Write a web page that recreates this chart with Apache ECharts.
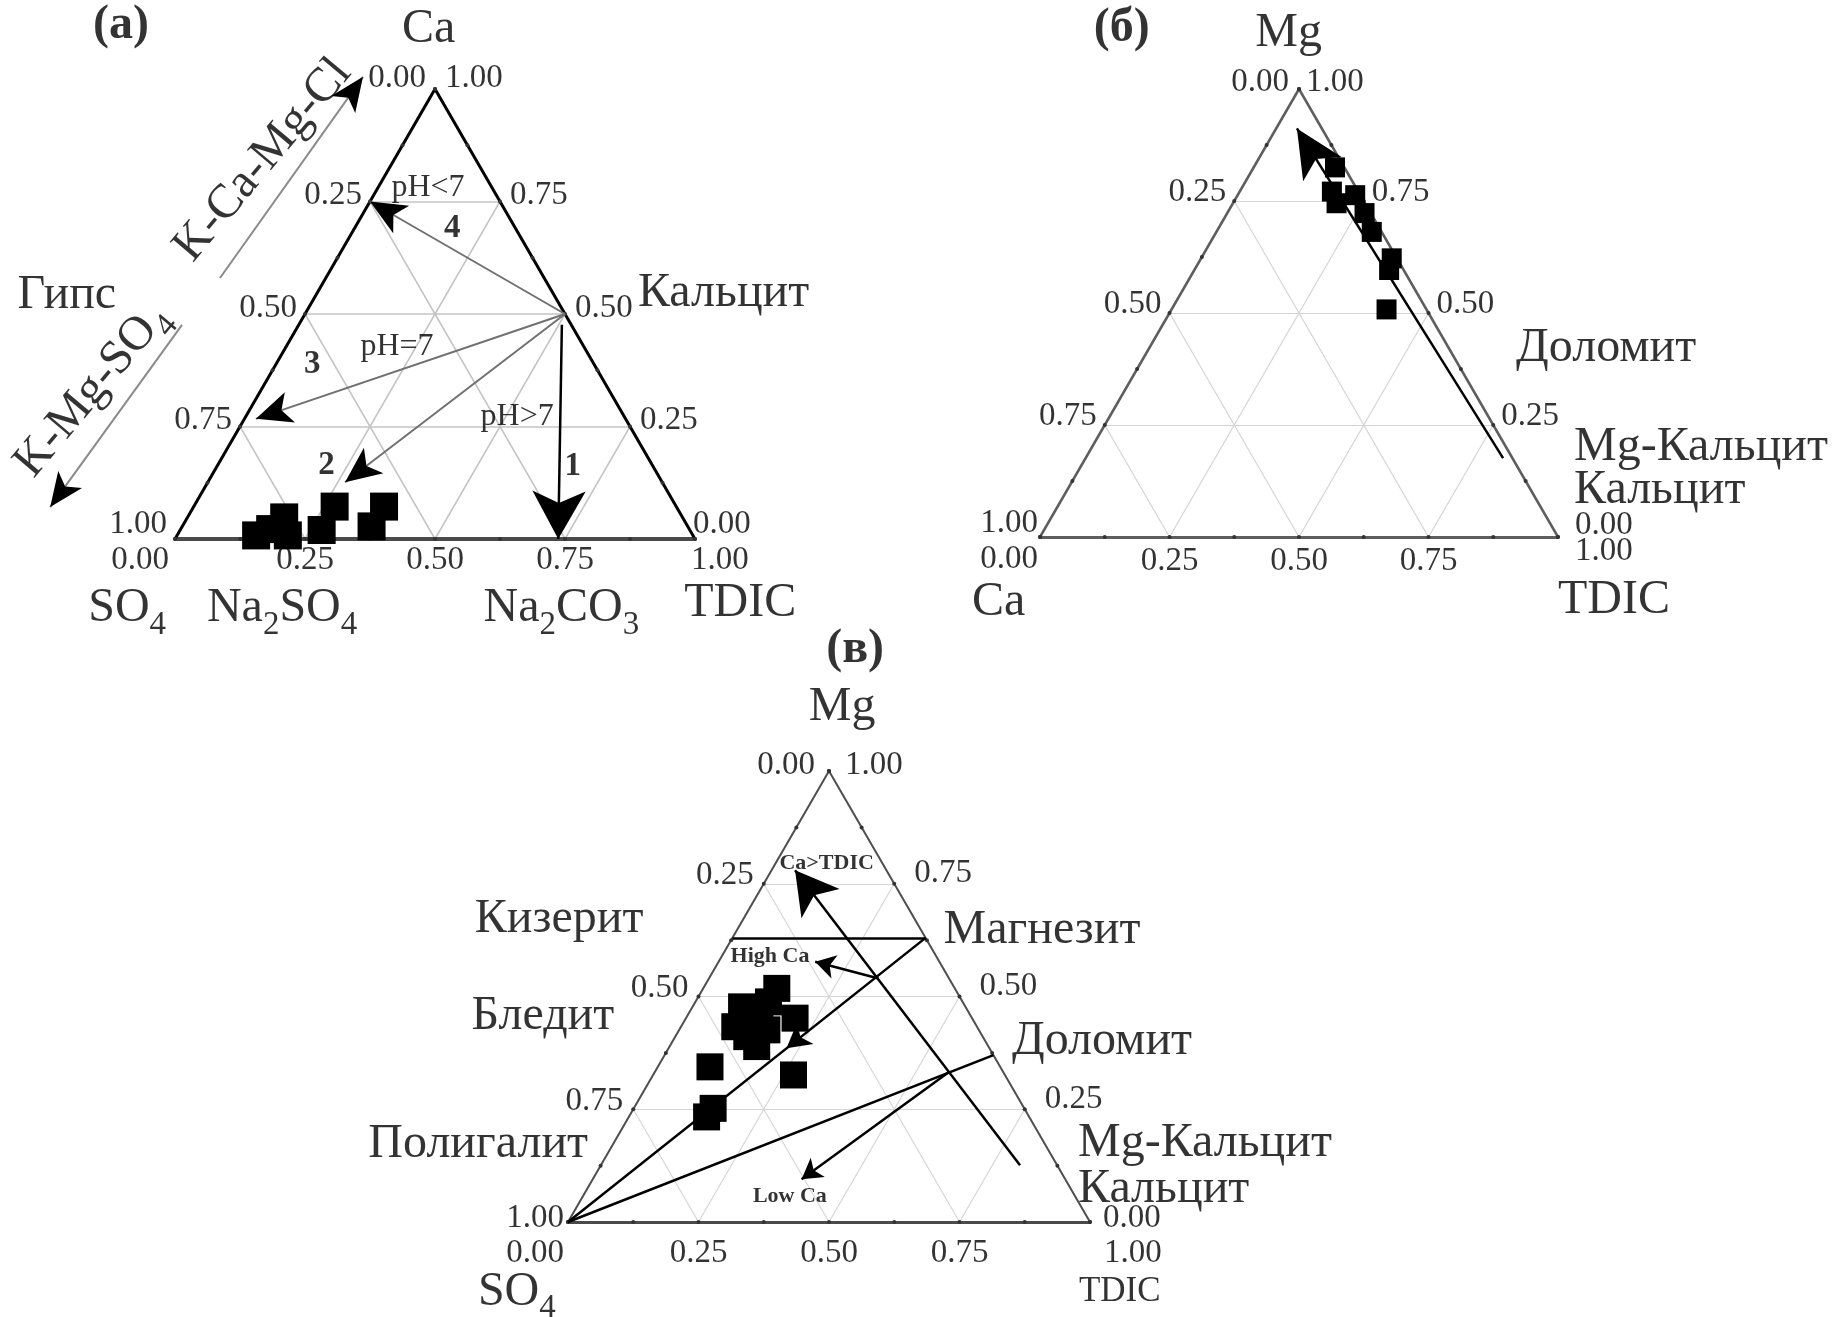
<!DOCTYPE html>
<html>
<head>
<meta charset="utf-8">
<script src="https://cdn.jsdelivr.net/npm/echarts@6/dist/echarts.min.js"></script>
<style>
  html, body { margin: 0; background: #fff; }
  #main { width: 1842px; height: 1317px; }
</style>
</head>
<body>
<div id="main"></div>
<script>
const FONT = "'Liberation Serif', 'Times New Roman', serif";
// ternary point [t, m]: t = share of bottom-right corner, m = share of apex
const tern = p => [p[0] + p[1] / 2, p[1]];

// ---------- axes ----------
const tickValues = [0, 0.25, 0.5, 0.75, 1];
const minorValues = [0.125, 0.375, 0.625, 0.875];
const gridValues = [0.25, 0.5, 0.75];

// ---------- (a) SO4 - TDIC - Ca ----------
const samplesA = [[0.152, 0.008], [0.172, 0.022], [0.186, 0.048], [0.213, 0.008],
                  [0.272, 0.02], [0.271, 0.072], [0.364, 0.028], [0.366, 0.072]];
const calciteA = [0.5, 0.5];
const pathTipsA = [[0, 0.75], [0.022, 0.267], [0.264, 0.126]];   // paths 4, 3, 2
const path1A = [[0.506, 0.476], [0.737, 0]];

// ---------- (б) Ca - TDIC - Mg ----------
const samplesB = [[0.157, 0.825], [0.178, 0.771], [0.2, 0.745], [0.227, 0.763], [0.265, 0.723],
                  [0.3, 0.681], [0.368, 0.622], [0.376, 0.596], [0.415, 0.508]];
const trendB = [[0.806, 0.176], [0.04, 0.912]];

// ---------- (в) SO4 - TDIC - Mg ----------
const samplesC = [[0.141, 0.518], [0.14, 0.488], [0.094, 0.477], [0.103, 0.433], [0.14, 0.455],
                  [0.209, 0.452], [0.167, 0.389], [0.1, 0.344], [0.269, 0.326], [0.152, 0.252],
                  [0.149, 0.233], [0.168, 0.426], [0.137, 0.411]];
const so4C = [0, 0];
const magnesiteC = [0.37, 0.63];
const dolomiteC = [0.63, 0.37];
const magLevelC = [[0, 0.63], [0.37, 0.63]];
const caLineC = [[0.803, 0.126], [0.045, 0.78]];
const highCaC = [[0.325, 0.54], [0.185, 0.577]];
const lowCaC = [[0.564, 0.333], [0.40, 0.095]];
const magArrowTipC = [0.226, 0.385];

// ---------- text notes (plot coords: x along base, y = apex share) ----------
const notesA = [
  [-0.104, 1.14, '(a)', 'panel'], [0.488, 1.133, 'Ca', 'big'],
  [1.055, 0.545, 'Кальцит', 'big'], [-0.208, 0.542, 'Гипс', 'big'],
  [0.169, 0.842, 'K-Ca-Mg-Cl', 'big', 50], [-0.16, 0.331, '{m|K-Mg-SO}{s|4}', 'big', 50],
  [0.4865, 0.782, 'pH<7', 'pH'], [0.533, 0.691, '4', 'num'],
  [0.427, 0.427, 'pH=7', 'pH'], [0.264, 0.387, '3', 'num'],
  [0.2915, 0.164, '2', 'num'], [0.658, 0.271, 'pH>7', 'pH'], [0.765, 0.162, '1', 'num'],
  [-0.092, -0.155, '{m|SO}{s|4}', 'big'], [0.206, -0.155, '{m|Na}{s|2}{m|SO}{s|4}', 'big'],
  [0.743, -0.155, '{m|Na}{s|2}{m|CO}{s|3}', 'big'], [1.087, -0.142, 'TDIC', 'big']
];
const notesB = [
  [0.158, 1.134, '(б)', 'panel'], [0.48, 1.125, 'Mg', 'big'],
  [1.093, 0.42, 'Доломит', 'big'],
  [1.031, 0.2, 'Mg-Кальцит', 'big', 0, 'left'], [1.031, 0.105, 'Кальцит', 'big', 0, 'left'],
  [-0.08, -0.146, 'Ca', 'big'], [1.108, -0.141, 'TDIC', 'big']
];
const notesC = [
  [0.55, 1.269, '(в)', 'panel'], [0.525, 1.14, 'Mg', 'big'],
  [-0.017, 0.67, 'Кизерит', 'big'], [0.908, 0.647, 'Магнезит', 'big'],
  [-0.048, 0.457, 'Бледит', 'big'], [1.023, 0.401, 'Доломит', 'big'],
  [-0.172, 0.171, 'Полигалит', 'big'],
  [0.977, 0.175, 'Mg-Кальцит', 'big', 0, 'left'], [0.977, 0.073, 'Кальцит', 'big', 0, 'left'],
  [-0.098, -0.155, '{m|SO}{s|4}', 'big'], [1.057, -0.155, 'TDIC', 'mid'],
  [0.4955, 0.795, 'Ca>TDIC', 'tag'], [0.387, 0.588, 'High Ca', 'tag'], [0.425, 0.056, 'Low Ca', 'tag']
];
// outer arrows of panel (a), plot coords
const outerArrowsA = [[[0.0865, 0.58], [0.3615, 1.027]], [[0.0135, 0.476], [-0.24, 0.071]]];

// ---------- layout / styles ----------
const grids = [
  { left: 175, top: 89, width: 520, height: 450 },
  { left: 1040, top: 89, width: 518, height: 448 },
  { left: 568, top: 771, width: 522, height: 451 }
];
const frameStyle = [
  { side: { color: '#000', width: 3 }, base: { color: '#4a4a4a', width: 4 }, grid: { color: '#c4c4c4', width: 1.5 } },
  { side: { color: '#5e5e5e', width: 2.5 }, base: { color: '#5e5e5e', width: 3 }, grid: { color: '#d4d4d4', width: 1.2 } },
  { side: { color: '#4e4e4e', width: 2 }, base: { color: '#4a4a4a', width: 3 }, grid: { color: '#d6d6d6', width: 1.2 } }
];
const tickOff = [
  { apexL: [-9, -11], apexR: [10, -11], left: [-8, -6], leftCorner: [-8, -15], right: [10, -6],
    rightCorner: [-2, -15], bottom: [0, 21], bottomLeft: [-6, 21], bottomRight: [-4, 21] },
  { apexL: [-10, -7], apexR: [7, -7], left: [-8, -9], leftCorner: [-2, -14], right: [8, -9],
    rightCorner: [17, -12], bottom: [0, 24], bottomLeft: [-2, 22], bottomRight: [17, 14] },
  { apexL: [-14, -6], apexR: [16, -6], left: [-10, -8], leftCorner: [-4, -4], right: [20, -10],
    rightCorner: [13, -4], bottom: [0, 31], bottomLeft: [-4, 31], bottomRight: [14, 31] }
];
const textStyles = {
  panel: { fontSize: 48, fontWeight: 'bold' },
  big: { fontSize: 48 },
  mid: { fontSize: 35 },
  pH: { fontSize: 32 },
  num: { fontSize: 33, fontWeight: 'bold' },
  tag: { fontSize: 22, fontWeight: 'bold' }
};
// subscripts: main glyphs top-aligned, index pushed below the baseline by its top padding
const rich = {
  m: { fontFamily: FONT, fontSize: 48, lineHeight: 48, verticalAlign: 'top', color: '#000' },
  s: { fontFamily: FONT, fontSize: 33, lineHeight: 33, padding: [24, 0, 0, 0], verticalAlign: 'top', color: '#000' }
};

const on = i => ({ xAxisIndex: i, yAxisIndex: i, silent: true, animation: false });
const f2 = v => v.toFixed(2);
const solid = s => Object.assign({ opacity: 1 }, s);

function frameSeries(i) {
  const st = frameStyle[i], o = tickOff[i];
  const A = tern([0, 0]), B = tern([1, 0]), C = tern([0, 1]);
  const segs = [];
  gridValues.forEach(k => {
    segs.push([tern([0, k]), tern([1 - k, k])]);
    segs.push([tern([k, 0]), tern([k, 1 - k])]);
    segs.push([tern([1 - k, 0]), tern([0, 1 - k])]);
  });
  const ticks = [];
  tickValues.concat(minorValues).forEach(k => {
    ticks.push(tern([k, 0]), tern([0, k]), tern([1 - k, k]));
  });
  const labels = [];
  const lbl = (p, text, align, off) => ({ value: p, name: text, label: { align: align, offset: off } });
  tickValues.forEach(v => {
    labels.push(lbl(tern([0, v]), f2(1 - v), 'right', v === 0 ? o.leftCorner : v === 1 ? o.apexL : o.left));
    labels.push(lbl(tern([1 - v, v]), f2(v), 'left', v === 0 ? o.rightCorner : v === 1 ? o.apexR : o.right));
    labels.push(lbl(tern([v, 0]), f2(v), v === 0 ? 'right' : v === 1 ? 'left' : 'center',
      v === 0 ? o.bottomLeft : v === 1 ? o.bottomRight : o.bottom));
  });
  return [
    Object.assign({ type: 'lines', coordinateSystem: 'cartesian2d', clip: false, z: 1,
      lineStyle: solid(st.grid), data: segs.map(c => ({ coords: c })) }, on(i)),
    Object.assign({ type: 'lines', coordinateSystem: 'cartesian2d', clip: false, z: 2,
      data: [{ coords: [A, B], lineStyle: solid(st.base) }, { coords: [B, C], lineStyle: solid(st.side) },
             { coords: [C, A], lineStyle: solid(st.side) }] }, on(i)),
    Object.assign({ type: 'scatter', clip: false, z: 3, symbol: 'circle', symbolSize: 4,
      itemStyle: { color: '#333', opacity: 1 }, data: ticks }, on(i)),
    Object.assign({ type: 'scatter', clip: false, z: 4, symbolSize: 1,
      itemStyle: { color: 'rgba(0,0,0,0)' },
      label: { show: true, position: 'inside', formatter: p => p.name, fontFamily: FONT,
               fontSize: 33, color: '#000', verticalAlign: 'middle' },
      data: labels }, on(i))
  ];
}

function sampleSeries(i, pts, size) {
  return Object.assign({ type: 'scatter', clip: false, z: 6, symbol: 'rect', symbolSize: size,
    itemStyle: { color: '#000', opacity: 1 }, data: pts.map(tern) }, on(i));
}

// segs in plot coords; the head is a separate zero-width line so it can be black on a grey shaft
function arrowSeries(i, segs, lineStyle, head) {
  const out = [];
  if (lineStyle) {
    out.push(Object.assign({ type: 'lines', coordinateSystem: 'cartesian2d', clip: false, z: 5,
      lineStyle: solid(lineStyle), data: segs.map(s => ({ coords: s })) }, on(i)));
  }
  if (head) {
    out.push(Object.assign({ type: 'lines', coordinateSystem: 'cartesian2d', clip: false, z: 7,
      symbol: ['none', 'arrow'], symbolSize: [0, head.size],
      lineStyle: { color: head.color || '#000', width: 0, opacity: 1 },
      data: segs.map(s => ({ coords: s })) }, on(i)));
  }
  return out;
}

function noteSeries(i, notes) {
  return Object.assign({ type: 'scatter', clip: false, z: 8, symbolSize: 1,
    itemStyle: { color: 'rgba(0,0,0,0)' },
    label: { show: true, position: 'inside', formatter: p => p.name, fontFamily: FONT,
             color: '#000', verticalAlign: 'middle', rich: rich },
    data: notes.map(n => ({
      value: [n[0], n[1]], name: n[2],
      label: Object.assign({ rotate: n[4] || 0, align: n[5] || 'center' }, textStyles[n[3]])
    }))
  }, on(i));
}

const gray = { color: '#707070', width: 2 };
const black = { color: '#000', width: 2.5 };
const series = [].concat(
  // (a)
  frameSeries(0),
  arrowSeries(0, pathTipsA.map(t => [tern(calciteA), tern(t)]), gray, { size: [24, 36] }),
  arrowSeries(0, [path1A.map(tern)], black, { size: [40, 48] }),
  arrowSeries(0, outerArrowsA, { color: '#8a8a8a', width: 2 }, { size: [22, 34] }),
  sampleSeries(0, samplesA, 28),
  noteSeries(0, notesA),
  // (б)
  frameSeries(1),
  arrowSeries(1, [trendB.map(tern)], black, { size: [34, 48] }),
  sampleSeries(1, samplesB, 20),
  noteSeries(1, notesB),
  // (в)
  frameSeries(2),
  arrowSeries(2, [magLevelC.map(tern), [so4C, dolomiteC].map(tern), [so4C, magnesiteC].map(tern)], black, null),
  arrowSeries(2, [[tern(magnesiteC), tern(magArrowTipC)]], null, { size: [20, 24] }),
  arrowSeries(2, [caLineC.map(tern)], black, { size: [36, 42] }),
  arrowSeries(2, [highCaC.map(tern)], black, { size: [18, 20] }),
  arrowSeries(2, [lowCaC.map(tern)], black, { size: [18, 20] }),
  sampleSeries(2, samplesC, 27),
  noteSeries(2, notesC)
);

const chart = echarts.init(document.getElementById('main'), null, { renderer: 'canvas' });
chart.setOption({
  backgroundColor: '#fff',
  animation: false,
  grid: grids,
  xAxis: grids.map((g, i) => ({ type: 'value', gridIndex: i, min: 0, max: 1, show: false })),
  yAxis: grids.map((g, i) => ({ type: 'value', gridIndex: i, min: 0, max: 1, show: false })),
  series: series
});
</script>
</body>
</html>
